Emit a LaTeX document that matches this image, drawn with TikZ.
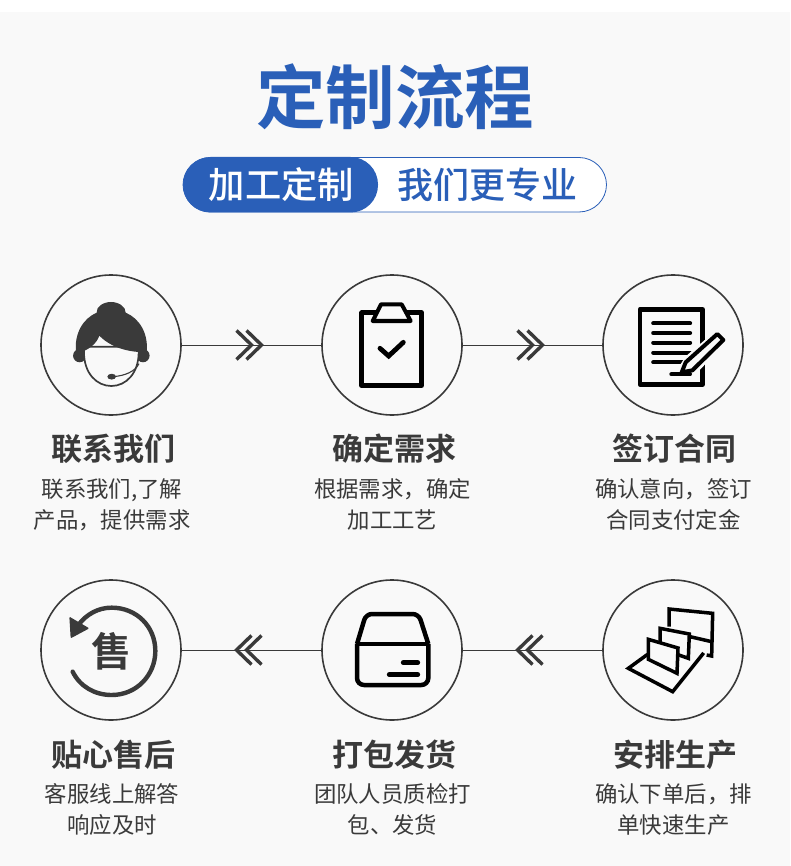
\documentclass[tikz,border=0pt]{standalone}
\usepackage{fontspec}
\setmainfont{Noto Sans CJK SC}[BoldFont={Noto Sans CJK SC Bold}]
\newfontfamily\cjkmed{Noto Sans CJK SC Medium}
\definecolor{bg}{HTML}{F9F9F9}
\definecolor{brand}{HTML}{2A5FB8}
\definecolor{ink}{HTML}{3A3A3A}
\tikzset{
  x=1pt,y=-1pt,
  stepcircle/.style={circle,draw=ink,line width=1.6pt,minimum size=140pt,inner sep=0pt},
  link/.style={draw=ink,line width=0.8pt},
  chev/.style={draw=ink,line width=3.4pt,miter limit=10},
  heading/.style={font=\bfseries\fontsize{31pt}{34pt}\selectfont,text=ink,inner sep=0pt},
  desc/.style={font=\fontsize{22.4pt}{31pt}\selectfont,text=ink,inner sep=0pt,align=center},
  zoomA/.style={shift={(#1)},x=0.33333pt,y=-0.33333pt},
  thick icon/.style={draw=black,line width=4.5pt,line join=miter},
  bar/.style={draw=black,line width=4pt,line cap=round},
}
\newcommand{\rightchev}[1]{%
  \draw[chev] ($(#1)+(-15,-14.5)$) -- ($(#1)+(0,0)$) -- ($(#1)+(-15,14.5)$);
  \draw[chev] ($(#1)+(-5,-14.5)$) -- ($(#1)+(10,0)$) -- ($(#1)+(-5,14.5)$);}
\newcommand{\leftchev}[1]{%
  \draw[chev] ($(#1)+(10,-14.5)$) -- ($(#1)+(-5,0)$) -- ($(#1)+(10,14.5)$);
  \draw[chev] ($(#1)+(0,-14.5)$) -- ($(#1)+(-15,0)$) -- ($(#1)+(0,14.5)$);}
\usetikzlibrary{calc}
\begin{document}
\begin{tikzpicture}
\useasboundingbox (0,0) rectangle (790,866);
\fill[white] (0,0) rectangle (790,866);
\fill[bg] (0,12) rectangle (790,866);
% title
\node[font=\bfseries\fontsize{69.5pt}{72pt}\selectfont,text=brand,inner sep=0pt] (title) at (395,97) {定制流程};
% pill
\draw[brand,line width=0.8pt,fill=white,rounded corners=27.5pt] (183,157.5) rectangle (606.5,212);
\fill[brand,rounded corners=27.5pt] (183,157) rectangle (378,212.5);
\node[font=\cjkmed\fontsize{36.3pt}{38pt}\selectfont,text=white,inner sep=0pt] (pilla) at (281.5,185) {加工定制};
\node[font=\cjkmed\fontsize{36pt}{38pt}\selectfont,text=brand,inner sep=0pt] (pillb) at (487.5,185) {我们更专业};
% circles
\node[stepcircle] (c1) at (111,345) {};
\node[stepcircle] (c2) at (392,345) {};
\node[stepcircle] (c3) at (673,345) {};
\node[stepcircle] (c4) at (673,650) {};
\node[stepcircle] (c5) at (392,650) {};
\node[stepcircle] (c6) at (111,650) {};
% connectors
\draw[link] (c1) -- coordinate (m1) (c2);
\draw[link] (c2) -- coordinate (m2) (c3);
\draw[link] (c4) -- coordinate (m3) (c5);
\draw[link] (c5) -- coordinate (m4) (c6);
\rightchev{m1}
\rightchev{m2}
\leftchev{m3}
\leftchev{m4}
% icon 1: agent
\begin{scope}[zoomA={30,265}]
  \fill[ink] (149,272) circle[radius=6.6pt];
  \fill[ink] (339,272) circle[radius=6.6pt];
  \filldraw[draw=ink,fill=bg,line width=1.7pt] (162,245) -- (162,262) .. controls (162,325) and (200,363) .. (244,363) .. controls (288,363) and (326,325) .. (326,262) -- (326,245) -- cycle;
  \fill[ink] (138,262) .. controls (132,205) and (160,160) .. (200,143) .. controls (198,125) and (220,111) .. (243,111)
    .. controls (266,111) and (288,125) .. (287,143) .. controls (328,160) and (356,205) .. (350,262)
    .. controls (300,262) and (245,250) .. (208,212) .. controls (200,235) and (180,250) .. (162,258) -- (150,268) -- cycle;
  \draw[ink,line width=1.1pt] (250,335) .. controls (285,332) and (315,320) .. (327,296);
  \fill[ink] (245,335) ellipse[x radius=4.3pt,y radius=2.9pt];
\end{scope}
% icon 2: clipboard
\begin{scope}[zoomA={310,265}]
  \draw[thick icon,line join=round] (155,143) rectangle (335,362);
  \draw[draw=black,line width=4pt,fill=bg,line join=round] (188,168) -- (213,118) -- (275,118) -- (302,168) -- cycle;
  \draw[bar,line width=4.8pt] (210,250) -- (236,273) -- (280,232);
\end{scope}
% icon 3: contract
\begin{scope}[zoomA={310,265}]
  \draw[thick icon,line join=round] (990,133) rectangle (1178,358);
  \foreach \yy in {175,204,233,263,292}
    \draw[bar,line width=4.3pt] (1030,\yy) -- (1140,\yy);
  \fill[bg] (1126,275) -- (1225,190) -- (1255,225) -- (1150,335) -- (1085,340) -- cycle;
  \draw[bar,line join=round,fill=bg] (1115,322) -- (1127,292) -- (1222,207) -- (1240,225) -- (1147,316) -- cycle;
  \draw[bar] (1084,328) -- (1140,328);
\end{scope}
% icon 4: shipping box
\begin{scope}[zoomA={310,570}]
  \draw[thick icon,line join=round,rounded corners=7pt] (141,222) -- (141,345) -- (355,345) -- (355,222);
  \draw[thick icon,line join=round,rounded corners=6pt] (141,222) -- (168,132) -- (326,132) -- (355,222);
  \draw[thick icon] (141,222) -- (355,222);
  \draw[bar,line width=5pt] (280,278) -- (323,278);
  \draw[bar,line width=5pt] (238,314) -- (323,314);
\end{scope}
% icon 5: production
\begin{scope}[zoomA={310,570}]
  \tikzset{prod/.style={draw=black,line width=3.5pt,line join=miter,fill=bg}}
  \draw[prod,fill=none] (955,295) -- (1088,365) -- (1200,225) -- (1135,198) -- (1010,255) -- cycle;
  \draw[prod] (1077,170) -- (1077,117) -- (1208,130) -- (1205,258) -- (1190,255);
  \draw[draw=black,line width=3.5pt] (1140,200) -- (1205,215);
  \draw[prod] (1050,235) -- (1050,175) -- (1138,192) -- (1135,265) -- cycle;
  \draw[prod] (1015,268) -- (1015,208) -- (1104,234) -- (1101,310) -- cycle;
\end{scope}
% icon 6: after-sale
\begin{scope}[zoomA={30,570}]
  \draw[ink,line width=4.4pt,line cap=round] (128,305) .. controls (150,350) and (195,375) .. (245,375)
    .. controls (320,375) and (376,315) .. (376,243) .. controls (376,170) and (320,113) .. (245,113)
    .. controls (205,113) and (170,132) .. (145,165);
  \fill[ink,rounded corners=1pt] (118,140) -- (178,175) -- (122,205) -- cycle;
  \node[font=\bfseries\fontsize{40pt}{42pt}\selectfont,text=ink,inner sep=0pt] (shou) at (245,245) {售};
\end{scope}
% labels
\node[heading] (h1) at (113.5,449) {联系我们};
\node[heading] (h2) at (394,449) {确定需求};
\node[heading] (h3) at (674,449) {签订合同};
\node[heading] (h4) at (675,754.5) {安排生产};
\node[heading] (h5) at (394,754.5) {打包发货};
\node[heading] (h6) at (113.5,754.5) {贴心售后};
\node[desc] (d1) at (112,504.5) {联系我们,了解\\产品，提供需求};
\node[desc] (d2) at (392.5,504.5) {根据需求，确定\\加工工艺};
\node[desc] (d3) at (673.5,504.5) {确认意向，签订\\合同支付定金};
\node[desc] (d4) at (673.5,809.5) {确认下单后，排\\单快速生产};
\node[desc] (d5) at (392.5,809.5) {团队人员质检打\\包、发货};
\node[desc] (d6) at (112,809.5) {客服线上解答\\响应及时};
\end{tikzpicture}
\end{document}
